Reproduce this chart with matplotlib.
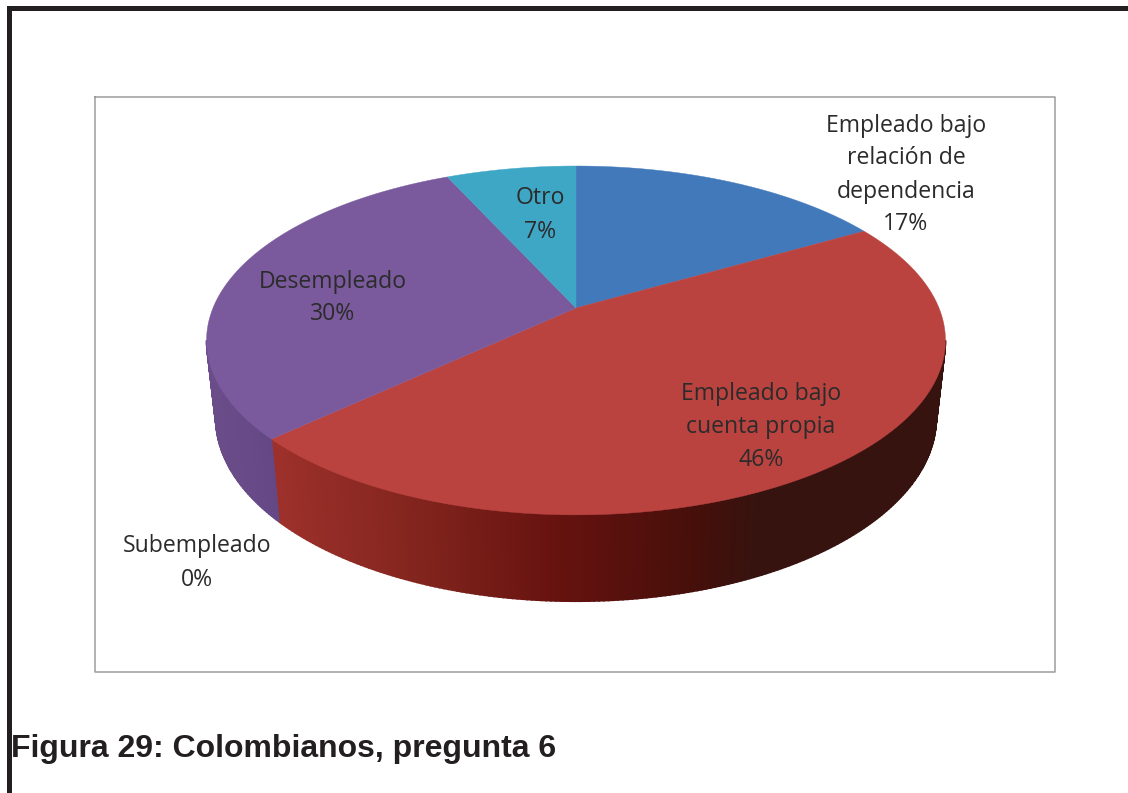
# 3D style pie drawn by hand, matplotlib has no perspective pie
import numpy as np
import matplotlib
matplotlib.use('Agg')
import matplotlib.pyplot as plt

names = ['Empleado bajo\nrelación de\ndependencia', 'Empleado bajo\ncuenta propia', 'Subempleado', 'Desempleado', 'Otro']
values = [16.7, 46.4, 0.0, 30.1, 6.8]
top_colors = ['#4279BB', '#BA4340', '#7F7F7F', '#7A5A9C', '#3FA7C6']
title = 'Figura 29: Colombianos, pregunta 6'

label_pos = [(906, 175), (761, 427), (197, 563), (333, 298), (540, 215)]

# side shading: x position -> colour
red_x = [270, 400, 560, 700, 760, 940]
red_rgb = [(0.62, 0.19, 0.17), (0.52, 0.15, 0.12), (0.40, 0.07, 0.06), (0.27, 0.06, 0.04), (0.21, 0.075, 0.06), (0.21, 0.075, 0.06)]
purple_x = [205, 280]
purple_rgb = [(0.42, 0.30, 0.54), (0.39, 0.28, 0.52)]

# pie geometry in pixels
cx, cy = 576, 308
b, a, p = 363, 168.4, 0.186
shrink_x, shrink_y = 0.975, 1.05
bottom_cy = 384


def project(theta):
    # theta clockwise from 12 o'clock, in radians
    w = 1 + p * np.cos(theta)
    return cx + b * np.sin(theta) / w, cy - a * np.cos(theta) / w


def project_bottom(theta):
    x, y = project(theta)
    return cx + (x - cx) * shrink_x, bottom_cy + (y - cy) * shrink_y


fig = plt.figure(figsize=(11.28, 7.93), dpi=100)
ax = fig.add_axes([0, 0, 1, 1])
ax.set_xlim(0, 1128)
ax.set_ylim(793, 0)
ax.axis('off')

# page frame and chart box
ax.fill([0, 1128, 1128, 12, 12, 7, 7], [6, 6, 11, 11, 793, 793, 6], color='#231F20', lw=0)
ax.plot([95, 1055, 1055, 95, 95], [97, 97, 672, 672, 97], color='#9C9C9C', lw=1.1)

edges = np.radians(np.concatenate([[0], np.cumsum(values)]) * 3.6)
vis_start = np.arccos(-p)
vis_end = 2 * np.pi - vis_start

# sides first, top faces go over them
for i in range(len(values)):
    t0, t1 = max(edges[i], vis_start), min(edges[i + 1], vis_end)
    if t1 <= t0:
        continue
    ts = np.linspace(t0, t1, int((t1 - t0) * 90) + 2)
    for s0, s1 in zip(ts[:-1], ts[1:]):
        x0, y0 = project(s0)
        x1, y1 = project(s1)
        x2, y2 = project_bottom(s1)
        x3, y3 = project_bottom(s0)
        xm = (x0 + x1) / 2
        stops_x, stops_rgb = (red_x, red_rgb) if i == 1 else (purple_x, purple_rgb)
        c = [np.interp(xm, stops_x, [r[k] for r in stops_rgb]) for k in range(3)]
        ax.fill([x0, x1, x2, x3], [y0, y1, y2, y3], color=c, lw=1.2, zorder=2)

for i in range(len(values)):
    if values[i] == 0:
        continue
    ts = np.linspace(edges[i], edges[i + 1], 200)
    xs, ys = project(ts)
    ax.fill(np.r_[cx, xs], np.r_[cy, ys], color=top_colors[i], lw=0.3, zorder=3)

for name, v, pos in zip(names, values, label_pos):
    ax.text(pos[0], pos[1], '%s\n%d%%' % (name, round(v)), ha='center', va='center',
            family='Open Sans', fontsize=16.6, color='#2B2B2B', linespacing=1.5, zorder=5)

ax.text(11, 757, title, family='Liberation Sans', fontweight='bold', fontsize=23,
        color='#231F20', ha='left', va='baseline')

fig.savefig('out.png', dpi=100)
